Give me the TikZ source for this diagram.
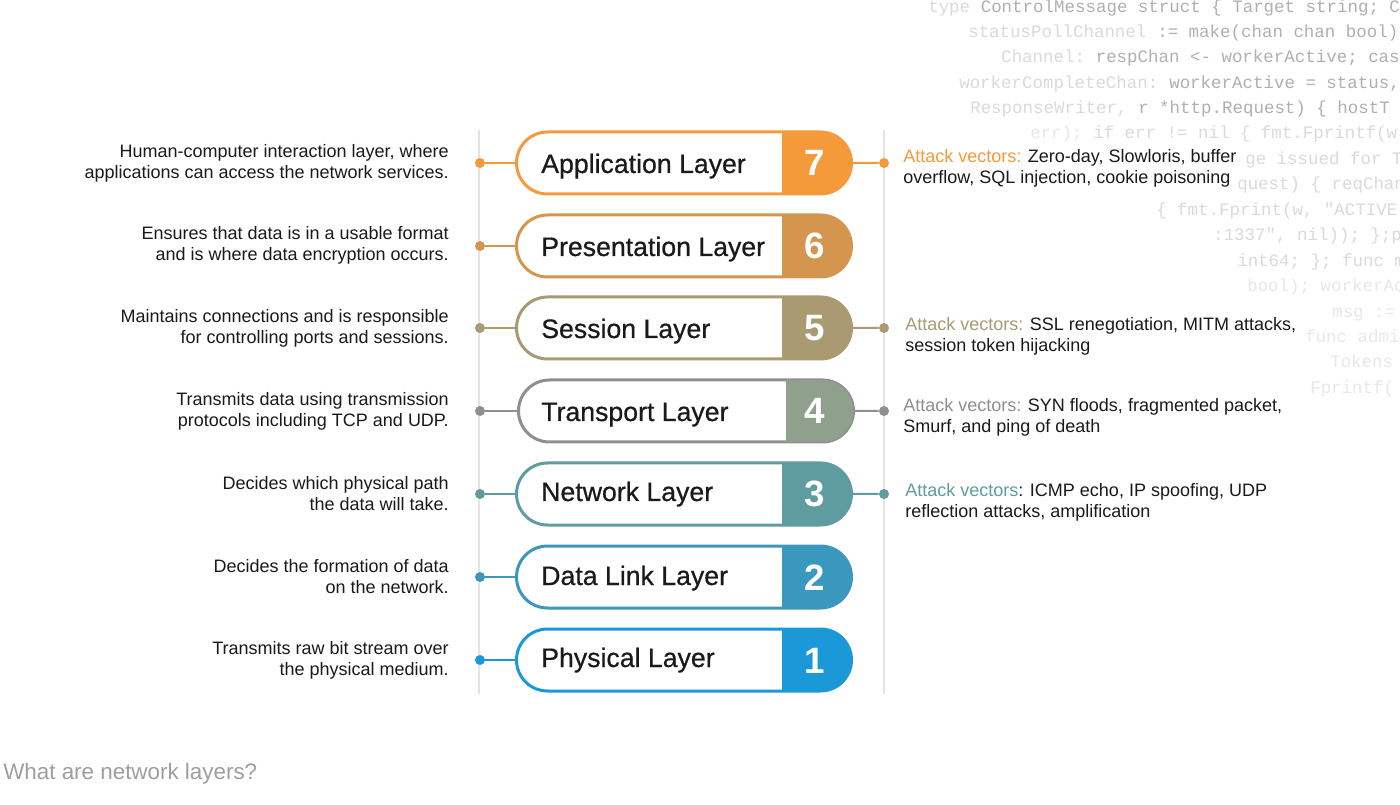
\documentclass[tikz,border=0pt]{standalone}
\usepackage{fontspec}
\setmainfont{Liberation Sans}
\newfontfamily\labelfont[FakeBold=0.6]{Liberation Sans}
\newfontfamily\codefont{Liberation Mono}
\usetikzlibrary{shapes.misc}

\definecolor{appcol}{HTML}{F59A3B}
\definecolor{prescol}{HTML}{D4964E}
\definecolor{sesscol}{HTML}{AA9A72}
\definecolor{transcol}{HTML}{8F8F8F}
\definecolor{transfill}{HTML}{8FA08C}
\definecolor{netcol}{HTML}{5E9CA0}
\definecolor{linkcol}{HTML}{3A98BE}
\definecolor{physcol}{HTML}{1B98D8}
\definecolor{railcol}{HTML}{E3E3E3}
\definecolor{textcol}{HTML}{1A1A1A}
\definecolor{captcol}{HTML}{9E9E9E}
\definecolor{codedark}{HTML}{B0B0B0}
\definecolor{codelight}{HTML}{DADADA}
\definecolor{codefaint}{HTML}{E8E8E8}

\begin{document}
\begin{tikzpicture}[x=0.75pt, y=-0.75pt,
    pill/.style={rounded rectangle, draw, fill=white, line width=2.25pt,
        minimum width=251.25pt, minimum height=46.5pt, inner sep=0pt},
    dot/.style={circle, inner sep=0pt, minimum size=7.5pt},
    link/.style={line width=1.5pt},
    rail/.style={draw=railcol, line width=1.5pt},
    laytext/.style={anchor=base west, inner sep=0pt, text=textcol,
        font=\labelfont\fontsize{20}{24}\selectfont},
    numtext/.style={anchor=base, inner sep=0pt, text=white,
        font=\fontsize{27.5}{30}\selectfont\bfseries},
    desc/.style={anchor=east, align=right, inner sep=0pt, text=textcol,
        font=\fontsize{13.5}{15.75}\selectfont},
    attack/.style={anchor=west, align=left, inner sep=0pt, text=textcol,
        font=\fontsize{13.5}{15.75}\selectfont},
    code/.style={anchor=base west, inner sep=0pt,
        font=\codefont\fontsize{13.1}{15}\selectfont}]

\useasboundingbox (0,0) rectangle (1400,805);
\fill[white] (0,0) rectangle (1400,805);

% faded source code in the background
\node[code, text=codelight] (k1) at (928,13) {type};
\node[code, text=codedark] (k1b) at (980.5,13) {ControlMessage struct \{ Target string; C};
\node[code, text=codelight] (k2) at (968,38) {statusPollChannel};
\node[code, text=codedark] (k2b) at (1157,38) {:= make(chan chan bool)};
\node[code, text=codelight] (k3) at (1001,63) {Channel:};
\node[code, text=codedark] (k3b) at (1095.5,63) {respChan <- workerActive; cas};
\node[code, text=codelight] (k4) at (959,89) {workerCompleteChan:};
\node[code, text=codedark] (k4b) at (1169,89) {workerActive = status,};
\node[code, text=codelight] (k5) at (970,114) {ResponseWriter,};
\node[code, text=codedark] (k5b) at (1138,114) {r *http.Request) \{ hostT};
\node[code, text=codefaint] (k6) at (1030,139) {err);};
\node[code, text=codelight] (k6b) at (1093,139) {if err != nil \{ fmt.Fprintf(w};
\node[code, text=codelight] (k7) at (1245,165) {ge issued for T};
\node[code, text=codelight] (k8) at (1237,190) {quest) \{ reqChan};
\node[code, text=codelight] (k9) at (1156,216) {\{ fmt.Fprint(w, "ACTIVE};
\node[code, text=codelight] (k10) at (1213,241) {:1337", nil)); \};p};
\node[code, text=codelight] (k11) at (1237,267) {int64; \}; func m};
\node[code, text=codefaint] (k12) at (1247,292) {bool); workerAc};
\node[code, text=codefaint] (k13) at (1332,318) {msg :=};
\node[code, text=codefaint] (k14) at (1305,343) {func admin};
\node[code, text=codefaint] (k15) at (1330,368) {Tokens};
\node[code, text=codefaint] (k16) at (1310,394) {Fprintf(};

% rails
\coordinate (railLtop) at (479,130);
\coordinate (railLbot) at (479,694);
\coordinate (railRtop) at (884,130);
\coordinate (railRbot) at (884,694);
\draw[rail] (railLtop) -- (railLbot);
\draw[rail] (railRtop) -- (railRbot);

% layer 7
\node[pill, draw=appcol] (L7) at (684,163) {};
\fill[appcol] (782,132) -- (820.5,132) arc[start angle=90, end angle=-90, radius=23.25pt] -- (782,194) -- cycle;
\node[laytext] (L7t) at (541,173) {Application Layer};
\node[numtext] (L7n) at (815,176) {7};
\node[dot, fill=appcol] (dl7) at (480,163) {};
\node[dot, fill=appcol] (dr7) at (884,163) {};
\draw[link, appcol] (dl7) -- (L7);
\draw[link, appcol] (L7) -- (dr7);
\node[desc] (D7) at (449,163) {Human-computer interaction layer, where\\applications can access the network services.};
\node[attack] (A7) at (903,168) {{\color{appcol}Attack vectors:} Zero-day, Slowloris, buffer\\overflow, SQL injection, cookie poisoning};

% layer 6
\node[pill, draw=prescol] (L6) at (684,246) {};
\fill[prescol] (782,215) -- (820.5,215) arc[start angle=90, end angle=-90, radius=23.25pt] -- (782,277) -- cycle;
\node[laytext] (L6t) at (541,256) {Presentation Layer};
\node[numtext] (L6n) at (815,259) {6};
\node[dot, fill=prescol] (dl6) at (480,246) {};
\draw[link, prescol] (dl6) -- (L6);
\node[desc] (D6) at (449,245) {Ensures that data is in a usable format\\and is where data encryption occurs.};

% layer 5
\node[pill, draw=sesscol] (L5) at (684,328) {};
\fill[sesscol] (782,297) -- (820.5,297) arc[start angle=90, end angle=-90, radius=23.25pt] -- (782,359) -- cycle;
\node[laytext] (L5t) at (541,338) {Session Layer};
\node[numtext] (L5n) at (815,341) {5};
\node[dot, fill=sesscol] (dl5) at (480,328) {};
\node[dot, fill=sesscol] (dr5) at (884,328) {};
\draw[link, sesscol] (dl5) -- (L5);
\draw[link, sesscol] (L5) -- (dr5);
\node[desc] (D5) at (449,328) {Maintains connections and is responsible\\for controlling ports and sessions.};
\node[attack] (A5) at (905,336) {{\color{sesscol}Attack vectors:} SSL renegotiation, MITM attacks,\\session token hijacking};

% layer 4
\node[pill, draw=transcol] (L4) at (686,411) {};
\fill[transfill] (786,380) -- (822.5,380) arc[start angle=90, end angle=-90, radius=23.25pt] -- (786,442) -- cycle;
\node[laytext] (L4t) at (541,421) {Transport Layer};
\node[numtext] (L4n) at (815,424) {4};
\node[dot, fill=transcol] (dl4) at (480,411) {};
\node[dot, fill=transcol] (dr4) at (884,411) {};
\draw[link, transcol] (dl4) -- (L4);
\draw[link, transcol] (L4) -- (dr4);
\node[desc] (D4) at (449,411) {Transmits data using transmission\\protocols including TCP and UDP.};
\node[attack] (A4) at (903,417) {{\color{transcol}Attack vectors:} SYN floods, fragmented packet,\\Smurf, and ping of death};

% layer 3
\node[pill, draw=netcol] (L3) at (684,494) {};
\fill[netcol] (782,463) -- (820.5,463) arc[start angle=90, end angle=-90, radius=23.25pt] -- (782,525) -- cycle;
\node[laytext] (L3t) at (541,501) {Network Layer};
\node[numtext] (L3n) at (815,507) {3};
\node[dot, fill=netcol] (dl3) at (480,494) {};
\node[dot, fill=netcol] (dr3) at (884,494) {};
\draw[link, netcol] (dl3) -- (L3);
\draw[link, netcol] (L3) -- (dr3);
\node[desc] (D3) at (449,494) {Decides which physical path\\the data will take.};
\node[attack] (A3) at (905,502) {{\color{netcol}Attack vectors}: ICMP echo, IP spoofing, UDP\\reflection attacks, amplification};

% layer 2
\node[pill, draw=linkcol] (L2) at (684,577) {};
\fill[linkcol] (782,546) -- (820.5,546) arc[start angle=90, end angle=-90, radius=23.25pt] -- (782,608) -- cycle;
\node[laytext] (L2t) at (541,585) {Data Link Layer};
\node[numtext] (L2n) at (815,590) {2};
\node[dot, fill=linkcol] (dl2) at (480,577) {};
\draw[link, linkcol] (dl2) -- (L2);
\node[desc] (D2) at (449,577) {Decides the formation of data\\on the network.};

% layer 1
\node[pill, draw=physcol] (L1) at (684,660) {};
\fill[physcol] (782,629) -- (820.5,629) arc[start angle=90, end angle=-90, radius=23.25pt] -- (782,691) -- cycle;
\node[laytext] (L1t) at (541,667) {Physical Layer};
\node[numtext] (L1n) at (815,673) {1};
\node[dot, fill=physcol] (dl1) at (480,660) {};
\draw[link, physcol] (dl1) -- (L1);
\node[desc] (D1) at (449,660) {Transmits raw bit stream over\\the physical medium.};

% caption
\node[anchor=base west, inner sep=0pt, text=captcol, font=\fontsize{16.8}{20}\selectfont] (cap) at (3,779) {What are network layers?};
\end{tikzpicture}
\end{document}
